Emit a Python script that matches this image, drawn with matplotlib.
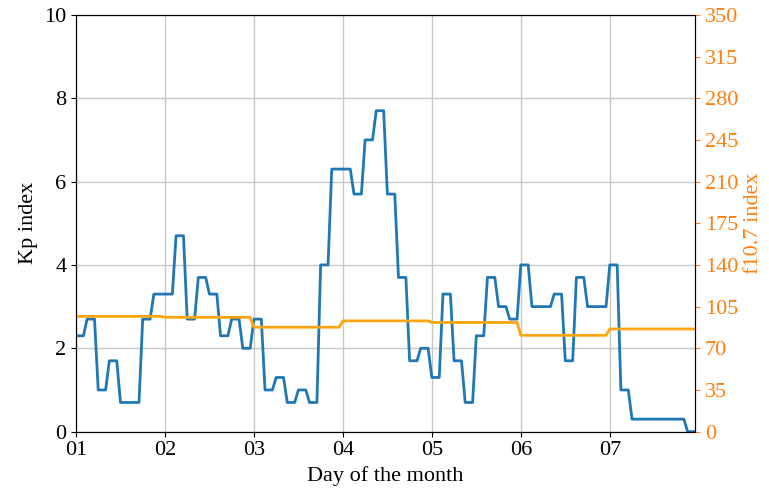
import numpy as np
import matplotlib
matplotlib.use("Agg")
import matplotlib.pyplot as plt

plt.rcParams['font.family'] = ['Liberation Serif', 'DejaVu Serif']
plt.rcParams['font.size'] = 16

# 3-hourly Kp values (8 per day, days 01..07)
kp_values = [
    2.3, 2.7, 1.0, 1.7, 0.7, 0.7, 2.7, 3.3,
    3.3, 4.7, 2.7, 3.7, 3.3, 2.3, 2.7, 2.0,
    2.7, 1.0, 1.3, 0.7, 1.0, 0.7, 4.0, 6.3,
    6.3, 5.7, 7.0, 7.7, 5.7, 3.7, 1.7, 2.0,
    1.3, 3.3, 1.7, 0.7, 2.3, 3.7, 3.0, 2.7,
    4.0, 3.0, 3.0, 3.3, 1.7, 3.7, 3.0, 3.0,
    4.0, 1.0, 0.3, 0.3, 0.3, 0.3, 0.3, 0.0,
]
# daily F10.7 values
f107_values = [96.8, 96.0, 87.7, 93.0, 91.7, 80.9, 86.2]
day_labels = ["01", "02", "03", "04", "05", "06", "07"]

# hourly series (each Kp value holds for 3 hours, each F10.7 for 24 hours)
kp_hourly = np.repeat(kp_values, 3)
f107_hourly = np.repeat(f107_values, 24)
t_days = np.arange(len(kp_hourly)) / 24.0

fig = plt.figure(figsize=(7.69, 4.95), dpi=100)
ax = fig.add_axes([0.0988, 0.128, 0.8050, 0.842])
ax.plot(t_days, kp_hourly, color='#1f77b4', lw=2)
ax.set_xlim(t_days[0], t_days[-1])
ax.set_ylim(0, 10)
ax.set_yticks(np.arange(0, 11, 2))
ax.set_xticks(np.arange(len(day_labels)))
ax.set_xticklabels(day_labels)
ax.grid(True, color='#c8c8c8', lw=1)
ax.set_axisbelow(True)
ax.set_xlabel("Day of the month")
ax.set_ylabel("Kp index")

ax2 = ax.twinx()
ax2.plot(t_days, f107_hourly, color='#ffa510', lw=2)
ax2.set_ylim(0, 350)
ax2.set_yticks(np.arange(0, 351, 35))
ax2.set_ylabel("f10.7 index", color='#ff7f0e')
ax2.tick_params(axis='y', colors='#ff7f0e')
ax2.spines['right'].set_color('black')

fig.savefig("out.png", dpi=100)
